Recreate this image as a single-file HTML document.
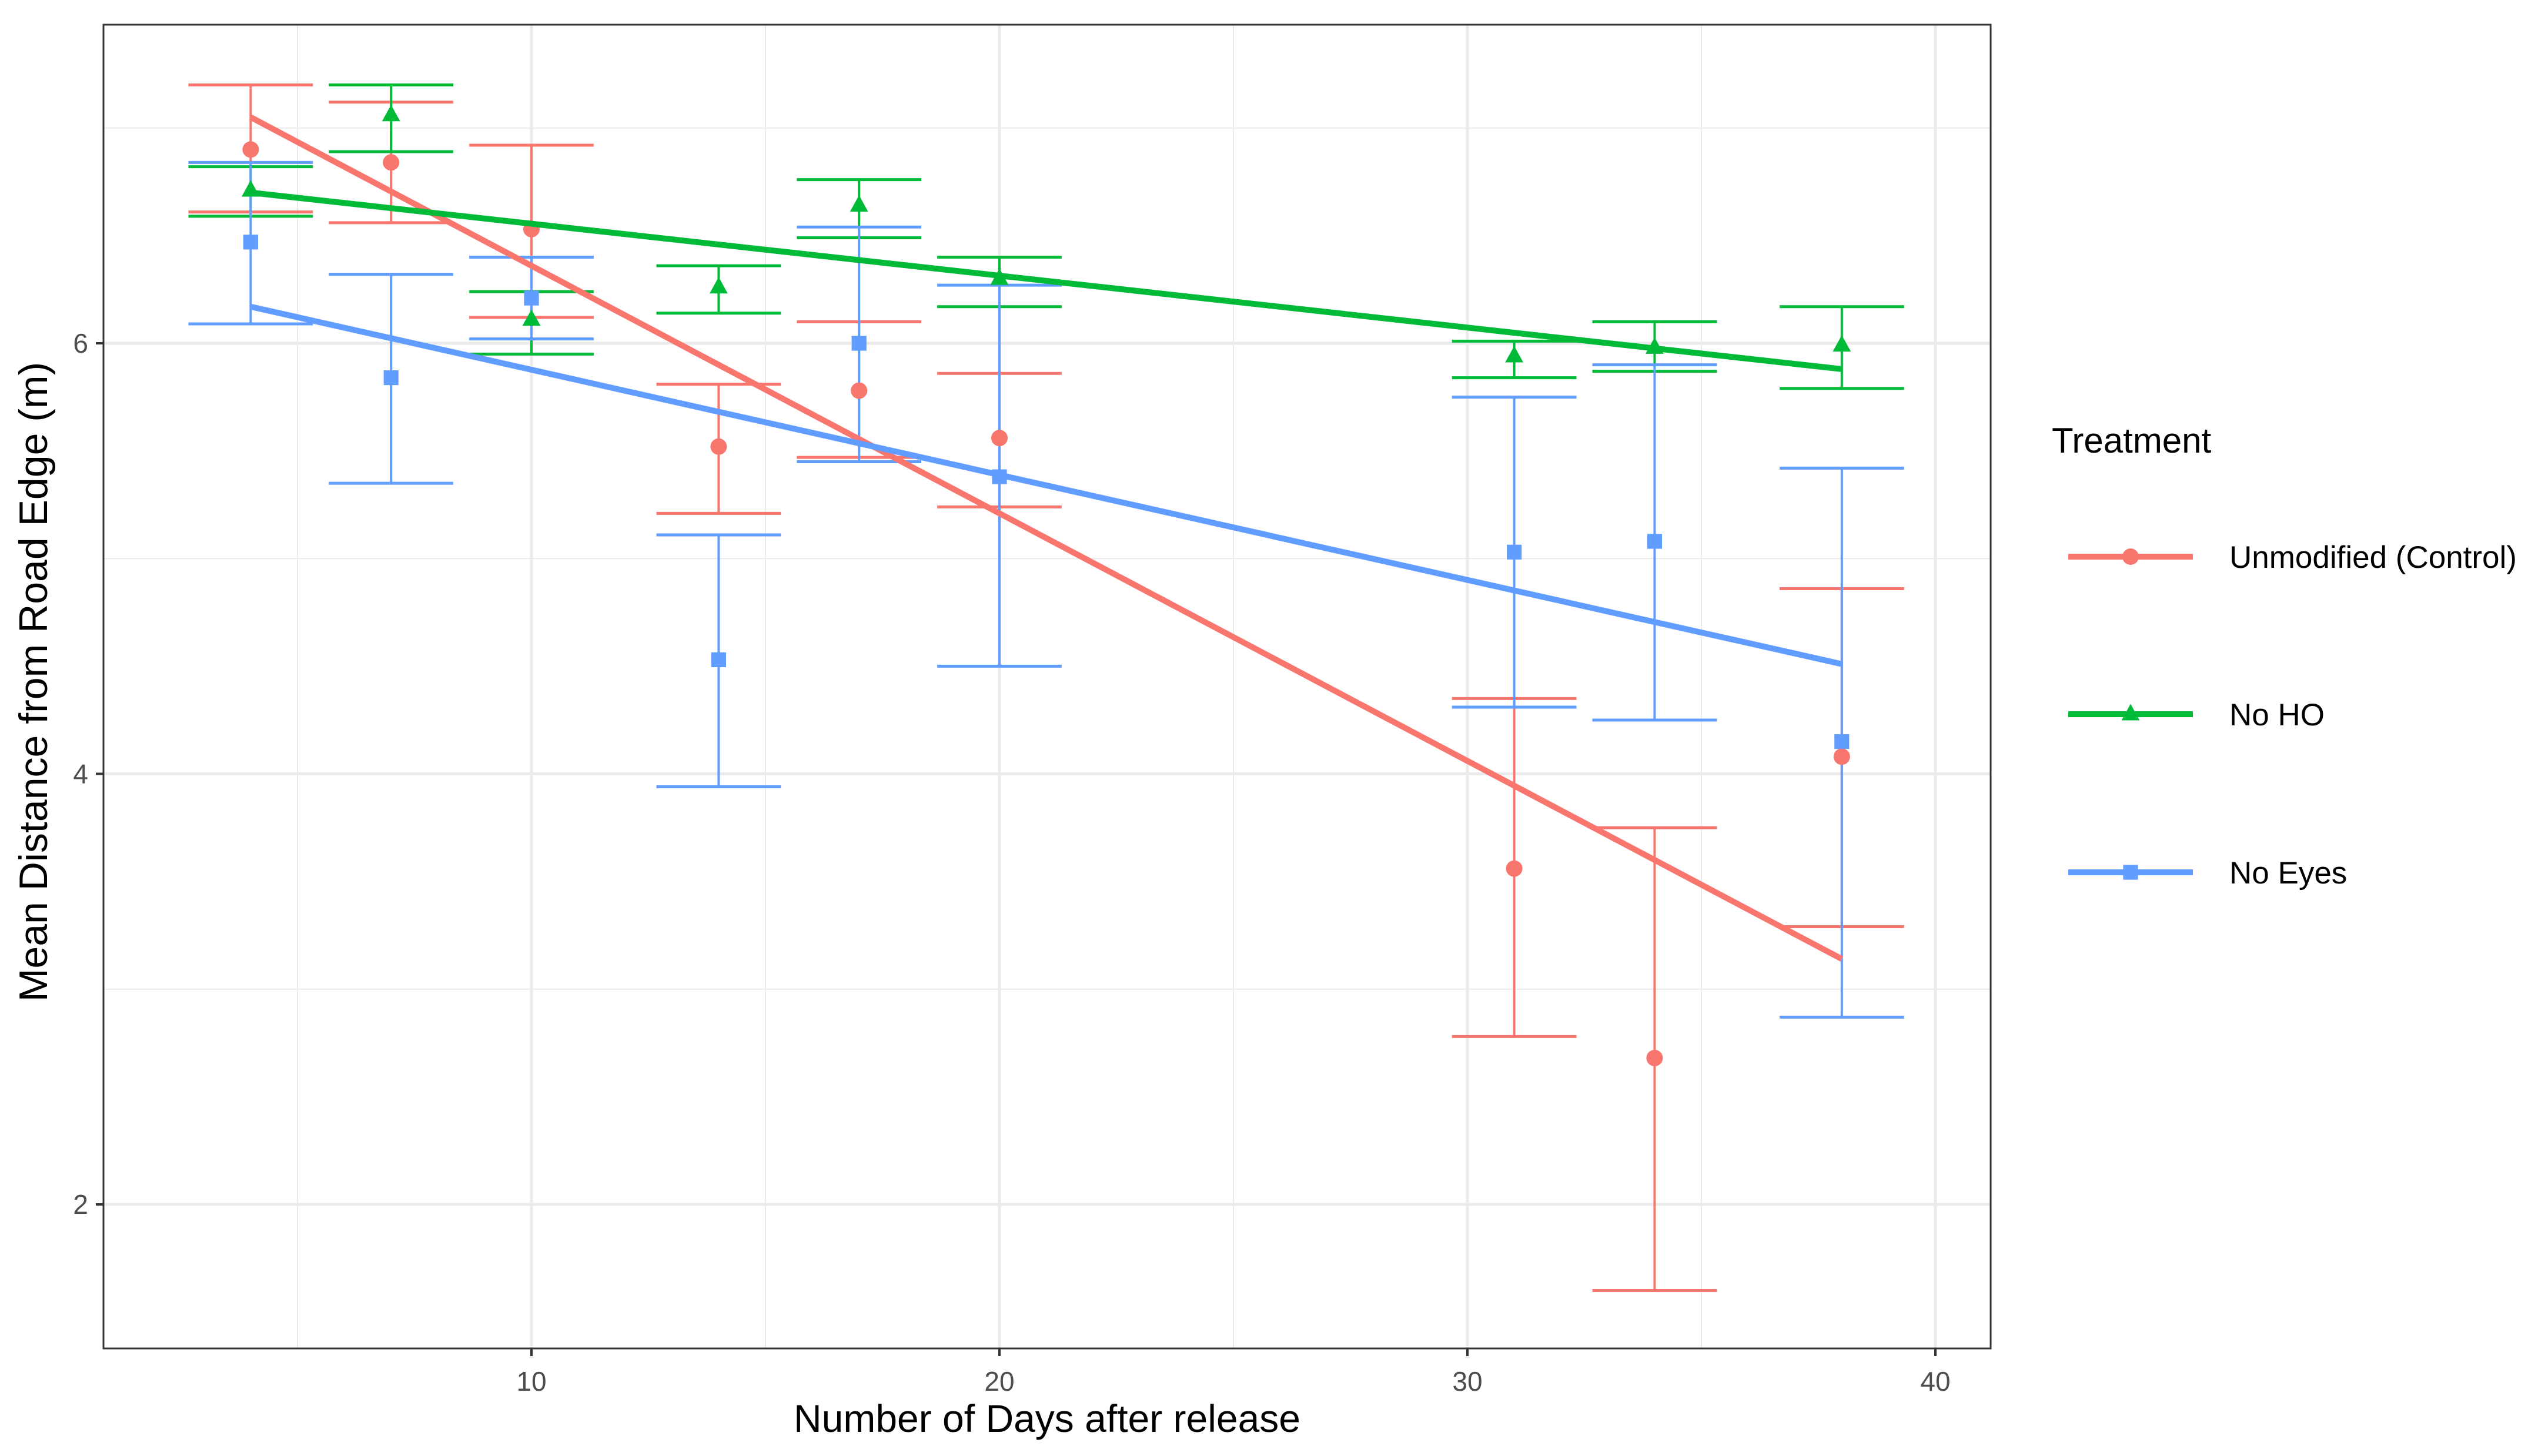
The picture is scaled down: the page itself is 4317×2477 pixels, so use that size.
<!DOCTYPE html>
<html><head><meta charset="utf-8"><style>
html,body{margin:0;padding:0;background:#fff;}
svg{display:block;font-family:"Liberation Sans",Arial,sans-serif;}
</style></head><body>
<svg id="chart" width="4317" height="2477" viewBox="0 0 4317 2477" xmlns="http://www.w3.org/2000/svg">
<rect x="0" y="0" width="4317" height="2477" fill="#fff"/>
<g id="grid"></g>
<g id="marks"></g>
<rect x="176" y="42" width="3210" height="2252" fill="none" stroke="#333" stroke-width="3"/>
<g id="axes"></g>
<text x="1781" y="2436" font-size="66" text-anchor="middle" fill="#000">Number of Days after release</text>
<text transform="translate(80,1160) rotate(-90)" font-size="68" text-anchor="middle" fill="#000">Mean Distance from Road Edge (m)</text>
<g id="legend">
<text x="3490" y="770" font-size="60" fill="#000">Treatment</text>
</g>
</svg>
<script>
const days = [4, 7, 10, 14, 17, 20, 31, 34, 38];
const seriesNames = ["Unmodified (Control)", "No HO", "No Eyes"];
const controlMean = [6.90, 6.84, 6.53, 5.52, 5.78, 5.56, 3.56, 2.68, 4.08];
const controlHi = [7.20, 7.12, 6.92, 5.81, 6.10, 5.86, 4.35, 3.75, 4.86];
const controlLo = [6.61, 6.56, 6.12, 5.21, 5.47, 5.24, 2.78, 1.60, 3.29];
const nohoMean = [6.71, 7.06, 6.11, 6.26, 6.64, 6.30, 5.94, 5.98, 5.99];
const nohoHi = [6.82, 7.20, 6.24, 6.36, 6.76, 6.40, 6.01, 6.10, 6.17];
const nohoLo = [6.59, 6.89, 5.95, 6.14, 6.49, 6.17, 5.84, 5.87, 5.79];
const noeyesMean = [6.47, 5.84, 6.21, 4.53, 6.00, 5.38, 5.03, 5.08, 4.15];
const noeyesHi = [6.84, 6.32, 6.40, 5.11, 6.54, 6.27, 5.75, 5.90, 5.42];
const noeyesLo = [6.09, 5.35, 6.02, 3.94, 5.45, 4.50, 4.31, 4.25, 2.87];
const fitStartX = [4, 4, 4];
const fitEndX = [38, 38, 38];
const fitStartY = [7.05, 6.70, 6.17];
const fitEndY = [3.14, 5.88, 4.51];
const xTicks = [10, 20, 30, 40];
const xMinor = [5, 15, 25, 35];
const yTicks = [2, 4, 6];
const yMinor = [3, 5, 7];

const NS = "http://www.w3.org/2000/svg";
const PL = 176, PR = 3386, PT = 42, PB = 2294;
function xs(d){ return 904 + (d - 10) * (3292 - 904) / 30; }
function ys(v){ return 584 + (6 - v) * (2049 - 584) / 4; }
function mk(tag, attrs, parent){
  const e = document.createElementNS(NS, tag);
  for (const k in attrs) e.setAttribute(k, attrs[k]);
  parent.appendChild(e); return e;
}
const grid = document.getElementById('grid');
const marks = document.getElementById('marks');
const axes = document.getElementById('axes');
const legend = document.getElementById('legend');

yMinor.forEach(v => { const l = mk('line', {x1:PL,x2:PR,y1:ys(v),y2:ys(v),stroke:'#ebebeb','stroke-width':2}, grid);
    });
xMinor.forEach(v => { const l = mk('line', {x1:xs(v),x2:xs(v),y1:PT,y2:PB,stroke:'#ebebeb','stroke-width':2}, grid);
    });
yTicks.forEach(v => { const l = mk('line', {x1:PL,x2:PR,y1:ys(v),y2:ys(v),stroke:'#ebebeb','stroke-width':5}, grid);
   
  const t = mk('line', {x1:163,x2:176,y1:ys(v),y2:ys(v),stroke:'#333','stroke-width':4}, axes);
   
  const tx = mk('text', {x:150,y:ys(v)+16,'font-size':46,'text-anchor':'end',fill:'#4d4d4d'}, axes);
  tx.textContent = v;
    });
xTicks.forEach(v => { const l = mk('line', {x1:xs(v),x2:xs(v),y1:PT,y2:PB,stroke:'#ebebeb','stroke-width':5}, grid);
   
  const t = mk('line', {x1:xs(v),x2:xs(v),y1:PB,y2:PB+13,stroke:'#333','stroke-width':4}, axes);
   
  const tx = mk('text', {x:xs(v),y:2366,'font-size':46,'text-anchor':'middle',fill:'#4d4d4d'}, axes);
  tx.textContent = v;
    });

const colors = ['#F8766D', '#00BA38', '#619CFF'];
const shapes = ['circle', 'triangle', 'square'];
const means = [controlMean, nohoMean, noeyesMean];
const his = [controlHi, nohoHi, noeyesHi];
const los = [controlLo, nohoLo, noeyesLo];
const keys = ['control', 'no-ho', 'no-eyes'];
const capHalf = 1.33;

function shape(kind, cx, cy, r, col, parent){
  let e;
  if (kind === 'circle') e = mk('circle', {cx:cx, cy:cy, r:r, fill:col}, parent);
  else if (kind === 'square') e = mk('rect', {x:cx-r*0.9, y:cy-r*0.9, width:r*1.8, height:r*1.8, fill:col}, parent);
  else e = mk('polygon', {points:`${cx},${cy-r*1.25} ${cx-r*1.1},${cy+r*0.75} ${cx+r*1.1},${cy+r*0.75}`, fill:col}, parent);
  return e;
}

for (let s = 0; s < 3; s++) {
  const g = mk('g', {}, marks);
  
  
  days.forEach((d, i) => {
    const x = xs(d);
    const v = mk('line', {x1:x,x2:x,y1:ys(his[s][i]),y2:ys(los[s][i]),stroke:colors[s],'stroke-width':4}, g);
    
    
    [his[s][i], los[s][i]].forEach(val => {
      const c = mk('line', {x1:xs(d-capHalf),x2:xs(d+capHalf),y1:ys(val),y2:ys(val),stroke:colors[s],'stroke-width':5}, g);
      
      
    });
  });
}
for (let s = 0; s < 3; s++) {
  const g = marks;
  days.forEach((d, i) => {
    const p = shape(shapes[s], xs(d), ys(means[s][i]), 14, colors[s], g);
    
    
  });
}
for (let s = 0; s < 3; s++) {
  const l = mk('line', {x1:xs(fitStartX[s]),y1:ys(fitStartY[s]),x2:xs(fitEndX[s]),y2:ys(fitEndY[s]),stroke:colors[s],'stroke-width':10}, marks);
  
  
}

const legY = [947, 1215, 1484];
for (let s = 0; s < 3; s++) {
  const g = mk('g', {}, legend);
  
  
  mk('line', {x1:3518,x2:3730,y1:legY[s],y2:legY[s],stroke:colors[s],'stroke-width':10}, g);
  shape(shapes[s], 3624, legY[s], 14, colors[s], g);
  const t = mk('text', {x:3792,y:legY[s]+19,'font-size':53,fill:'#000'}, g);
  t.textContent = seriesNames[s];
}
</script>
</body></html>
